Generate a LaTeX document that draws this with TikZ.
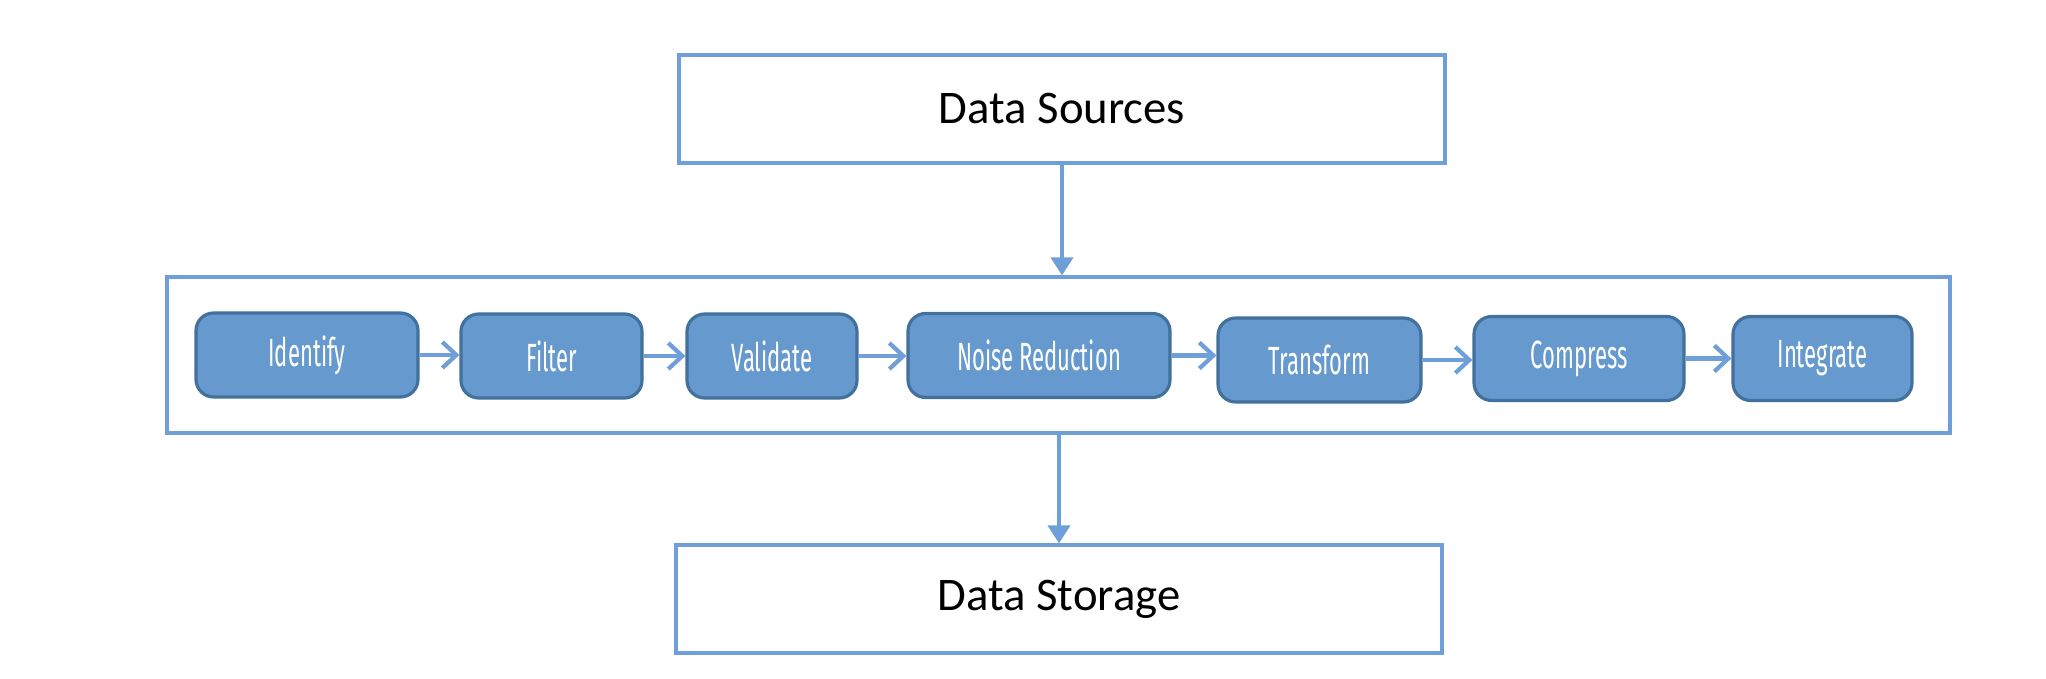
\documentclass[tikz,border=0pt]{standalone}
\usepackage{fontspec}
\setmainfont{Carlito}
\newfontfamily\condfont[FakeStretch=0.56]{Fira Sans}
\usetikzlibrary{arrows.meta}
\definecolor{myLine}{HTML}{6F9FD8}
\definecolor{myFill}{HTML}{6699CD}
\definecolor{myEdge}{HTML}{41719C}

\begin{document}
\begin{tikzpicture}[x=1cm, y=1cm]
  \tikzstyle{O}=[draw=myLine, line width=0.9pt, fill=white, inner sep=0pt, font=\fontsize{13.3}{15}\selectfont]
  \tikzstyle{P}=[rectangle, rounded corners=5pt, draw=myEdge, line width=0.9pt, fill=myFill, text=white, minimum height=0.84cm, inner sep=0pt, font=\condfont\fontsize{11.2}{13}\selectfont]
  \tikzstyle{V}=[draw=myLine, line width=1.1pt, -{Triangle[length=1.8mm, width=2.2mm]}]
  \tikzstyle{H}=[draw=myLine, line width=1.2pt, -{Straight Barb[length=1.4mm, width=2.6mm, line width=1.2pt]}]

  \useasboundingbox (0,0) rectangle (20.46,6.78);

  \node[O, minimum width=7.66cm, minimum height=1.08cm] at (10.62,5.69) (src) {Data Sources};
  \node[O, minimum width=17.83cm, minimum height=1.56cm] at (10.585,3.23) (pipe) {};
  \node[O, minimum width=7.66cm, minimum height=1.08cm] at (10.59,0.79) (sink) {Data Storage};

  \node[P, minimum width=2.22cm] at (3.07,3.23) (I) {Identify};
  \node[P, minimum width=1.81cm] at (5.515,3.22) (F) {Filter};
  \node[P, minimum width=1.70cm] at (7.72,3.22) (Va) {Validate};
  \node[P, minimum width=2.62cm] at (10.39,3.225) (N) {Noise Reduction};
  \node[P, minimum width=2.03cm] at (13.195,3.18) (T) {Transform};
  \node[P, minimum width=2.10cm] at (15.79,3.195) (C) {Compress};
  \node[P, minimum width=1.79cm] at (18.225,3.195) (In) {Integrate};

  \draw [V] (src.south) to (src.south |- pipe.north);
  \draw [V] (pipe.south -| sink.north) to (sink.north);

  \draw [H] (I.east) to (I.east -| F.west);
  \draw [H] (F.east) to (F.east -| Va.west);
  \draw [H] (Va.east) to (Va.east -| N.west);
  \draw [H] (N.east) to (N.east -| T.west);
  \draw [H] (T.east) to (T.east -| C.west);
  \draw [H] (C.east) to (C.east -| In.west);

\end{tikzpicture}
\end{document}
